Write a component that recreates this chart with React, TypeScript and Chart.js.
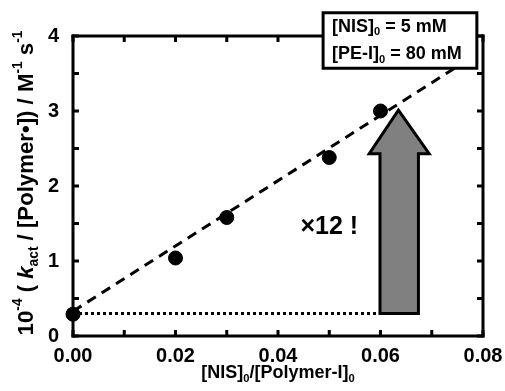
import React, { useEffect, useRef } from 'react';
import { Chart, registerables } from 'chart.js';
Chart.register(...registerables);

// ---- data ----
const ratioX = [0, 0.02, 0.03, 0.05, 0.06];
const rateY = [0.29, 1.04, 1.58, 2.38, 3.0];
const fitX = [0, 0.0765];
const fitY = [0.33, 3.66];
const baseX = [0, 0.0597];
const baseY = [0.3, 0.3];
const xTicks = [0, 0.02, 0.04, 0.06, 0.08];
const yTicks = [0, 1, 2, 3, 4];
const xMinorTicks = [0.01, 0.03, 0.05, 0.07];
const yMinorTicks = [0.5, 1.5, 2.5, 3.5];
const arrowX = [0.0599, 0.0674, 0.0674, 0.0695, 0.0635, 0.0578, 0.0599];
const arrowY = [0.3, 0.3, 2.43, 2.43, 3.01, 2.43, 2.43];
const noteText = '×12 !';
const notePos = [0.05, 1.45];
const condLines = [
  [{ t: '[NIS]' }, { t: '0', k: 'sub' }, { t: ' = 5 mM' }],
  [{ t: '[PE-I]' }, { t: '0', k: 'sub' }, { t: ' = 80 mM' }],
];
const condBoxX = [0.0488, 0.0788];
const condBoxY = [4.31, 3.57];
const xTitle = [{ t: '[NIS]' }, { t: '0', k: 'sub' }, { t: '/[Polymer-I]' }, { t: '0', k: 'sub' }];
const yTitle = [
  { t: '10' }, { t: '-4', k: 'sup' }, { t: ' ( ' }, { t: 'k', it: true }, { t: 'act', k: 'sub' },
  { t: ' / [Polymer' }, { t: '•' }, { t: ']) / M' }, { t: '-1', k: 'sup' }, { t: ' s' }, { t: '-1', k: 'sup' },
];

const FAM = '"Liberation Sans", Arial, sans-serif';

type Seg = { t: string; k?: string; it?: boolean };

function richWidth(ctx: CanvasRenderingContext2D, segs: Seg[], size: number) {
  let total = 0;
  const ws = segs.map((s) => {
    const sz = s.k ? size * 0.62 : size;
    ctx.font = `${s.it ? 'italic ' : ''}bold ${sz}px ${FAM}`;
    const w = ctx.measureText(s.t).width;
    total += w;
    return w;
  });
  return { total, ws };
}

function drawRich(ctx: CanvasRenderingContext2D, segs: Seg[], x0: number, y0: number, size: number, rot: number, align: 'center' | 'left') {
  ctx.save();
  ctx.translate(x0, y0);
  ctx.rotate(rot);
  const { total, ws } = richWidth(ctx, segs, size);
  let x = align === 'center' ? -total / 2 : 0;
  ctx.textBaseline = 'middle';
  ctx.textAlign = 'left';
  ctx.fillStyle = '#000';
  segs.forEach((s, i) => {
    const sz = s.k ? size * 0.62 : size;
    ctx.font = `${s.it ? 'italic ' : ''}bold ${sz}px ${FAM}`;
    const dy = s.k === 'sup' ? -size * 0.38 : s.k === 'sub' ? size * 0.32 : 0;
    ctx.fillText(s.t, x, dy);
    x += ws[i];
  });
  ctx.restore();
}

function frameBounds(chart: any) {
  const xs = chart.scales.x;
  const ys = chart.scales.y;
  return {
    L: xs.getPixelForValue(xTicks[0]),
    R: xs.getPixelForValue(xTicks[xTicks.length - 1]),
    T: ys.getPixelForValue(yTicks[yTicks.length - 1]),
    B: ys.getPixelForValue(yTicks[0]),
  };
}

const FRAME = '#000000';

const decorPlugin = {
  id: 'decor',
  beforeDatasetsDraw(chart: any) {
    const ctx: CanvasRenderingContext2D = chart.ctx;
    const xs = chart.scales.x;
    const ys = chart.scales.y;
    ctx.save();
    ctx.setLineDash([]);
    ctx.beginPath();
    arrowX.forEach((v, i) => {
      const px = xs.getPixelForValue(v);
      const py = ys.getPixelForValue(arrowY[i]);
      if (i === 0) ctx.moveTo(px, py);
      else ctx.lineTo(px, py);
    });
    ctx.closePath();
    ctx.fillStyle = '#808080';
    ctx.fill();
    ctx.lineWidth = 3;
    ctx.strokeStyle = '#000';
    ctx.lineJoin = 'miter';
    ctx.stroke();
    ctx.restore();
  },
  afterDatasetsDraw(chart: any) {
    const ctx: CanvasRenderingContext2D = chart.ctx;
    const xs = chart.scales.x;
    const ys = chart.scales.y;
    const { L, R, T, B } = frameBounds(chart);
    ctx.save();
    ctx.setLineDash([]);
    ctx.fillStyle = FRAME;
    const w = 3;
    ctx.fillRect(L - w / 2, T - w / 2, R - L + w, w);
    ctx.fillRect(L - w / 2, B - w / 2, R - L + w, w);
    ctx.fillRect(L - w / 2, T - w / 2, w, B - T + w);
    ctx.fillRect(R - w / 2, T - w / 2, w, B - T + w);
    const tl = 6;
    [...xTicks, ...xMinorTicks].forEach((v) => {
      const px = xs.getPixelForValue(v);
      ctx.fillRect(px - 1.5, B - tl, 3, tl);
      ctx.fillRect(px - 1.5, T, 3, tl);
    });
    [...yTicks, ...yMinorTicks].forEach((v) => {
      const py = ys.getPixelForValue(v);
      ctx.fillRect(L, py - 1.5, tl, 3);
      ctx.fillRect(R - tl, py - 1.5, tl, 3);
    });
    ctx.fillStyle = '#000';
    const p0x = xs.getPixelForValue(ratioX[0]);
    const p0y = ys.getPixelForValue(rateY[0]);
    ctx.beginPath();
    ctx.arc(p0x, p0y, 7, 0, Math.PI * 2);
    ctx.fill();
    ctx.restore();
  },
  afterDraw(chart: any) {
    const ctx: CanvasRenderingContext2D = chart.ctx;
    const xs = chart.scales.x;
    const ys = chart.scales.y;
    ctx.save();
    ctx.setLineDash([]);
    ctx.font = `bold 25px ${FAM}`;
    ctx.fillStyle = '#000';
    ctx.textAlign = 'center';
    ctx.textBaseline = 'middle';
    ctx.fillText(noteText, xs.getPixelForValue(notePos[0]), ys.getPixelForValue(notePos[1]));
    const bx0 = xs.getPixelForValue(condBoxX[0]);
    const bx1 = xs.getPixelForValue(condBoxX[1]);
    const by0 = ys.getPixelForValue(condBoxY[0]);
    const by1 = ys.getPixelForValue(condBoxY[1]);
    ctx.fillStyle = '#fff';
    ctx.fillRect(bx0, by0, bx1 - bx0, by1 - by0);
    ctx.lineWidth = 3;
    ctx.strokeStyle = '#000';
    ctx.strokeRect(bx0, by0, bx1 - bx0, by1 - by0);
    const lh = (by1 - by0) / 2;
    condLines.forEach((segs, i) => {
      drawRich(ctx, segs as Seg[], bx0 + 9, by0 + lh * (i + 0.5), 18, 0, 'left');
    });
    const { L, R, B } = frameBounds(chart);
    drawRich(ctx, xTitle, (L + R) / 2, B + 37, 18, 0, 'center');
    const m = richWidth(ctx, yTitle, 20).total;
    const ySize = (20 * 305) / m;
    drawRich(ctx, yTitle, 27, 183, ySize, -Math.PI / 2, 'center');
    ctx.restore();
  },
};

export default function App() {
  const ref = useRef<HTMLCanvasElement | null>(null);
  useEffect(() => {
    if (!ref.current) return;
    const tickFont = { family: FAM, size: 20, weight: 'bold' as const };
    const chart = new Chart(ref.current, {
      type: 'scatter',
      data: {
        datasets: [
          {
            data: baseX.map((x, i) => ({ x, y: baseY[i] })),
            showLine: true,
            borderColor: '#000',
            borderWidth: 3,
            borderDash: [3, 3],
            pointRadius: 0,
            clip: false as any,
          },
          {
            data: fitX.map((x, i) => ({ x, y: fitY[i] })),
            showLine: true,
            borderColor: '#000',
            borderWidth: 3,
            borderDash: [10, 7],
            pointRadius: 0,
            clip: false as any,
          },
          {
            data: ratioX.map((x, i) => ({ x, y: rateY[i] })),
            showLine: false,
            backgroundColor: '#000',
            borderColor: '#000',
            pointRadius: 7,
            pointHoverRadius: 7,
            clip: false as any,
          },
        ],
      },
      options: {
        responsive: false,
        animation: false,
        events: [],
        layout: { padding: { top: 36, right: 22, left: 0, bottom: 0 } },
        plugins: { legend: { display: false }, tooltip: { enabled: false } },
        scales: {
          x: {
            type: 'linear',
            min: 0,
            max: 0.08,
            grid: { display: false },
            border: { display: false },
            afterBuildTicks: (s: any) => {
              s.ticks = xTicks.map((v) => ({ value: v }));
            },
            afterFit: (s: any) => {
              s.height = 55;
            },
            ticks: {
              font: tickFont,
              color: '#000',
              padding: 0,
              maxRotation: 0,
              callback: (v: any) => Number(v).toFixed(2),
            },
          },
          y: {
            type: 'linear',
            min: 0,
            max: 4,
            grid: { display: false },
            border: { display: false },
            afterBuildTicks: (s: any) => {
              s.ticks = yTicks.map((v) => ({ value: v }));
            },
            afterFit: (s: any) => {
              s.width = 73;
            },
            ticks: {
              font: tickFont,
              color: '#000',
              padding: 6,
              callback: (v: any) => String(v),
            },
          },
        },
      },
      plugins: [decorPlugin],
    });
    return () => chart.destroy();
  }, []);
  return (
    <div style={{ position: 'fixed', left: 0, top: 0, width: 505, height: 391, background: '#fff' }}>
      <canvas ref={ref} width={505} height={391} style={{ width: 505, height: 391 }} />
    </div>
  );
}
